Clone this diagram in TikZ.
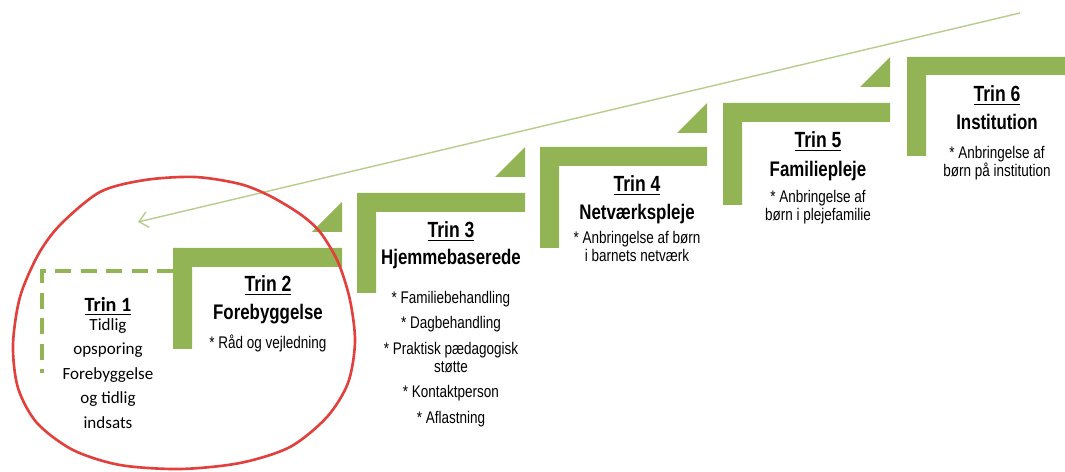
\documentclass[tikz,border=0pt]{standalone}
\usepackage{fontspec}
\setmainfont{Liberation Sans}[FakeStretch=0.8]
\newfontfamily\calibrifont{Carlito}
\usetikzlibrary{arrows.meta}
\definecolor{trappegroen}{HTML}{92B454}
\definecolor{pilgroen}{HTML}{B9CC8C}
\definecolor{ringroed}{HTML}{E2403C}

\begin{document}
\begin{tikzpicture}[x=0.02cm,y=-0.02cm]
	\tikzstyle{every node}=[inner sep=0pt, align=center]
	\tikzstyle{trin}=[font=\fontsize{12.5}{14}\selectfont\bfseries, anchor=base]
	\tikzstyle{undertitel}=[font=\fontsize{12}{14}\selectfont\bfseries, anchor=base]
	\tikzstyle{punkt}=[font=\fontsize{9.6}{10.4}\selectfont, anchor=north]
	\tikzstyle{trappe}=[fill=trappegroen]
	\useasboundingbox (0,0) rectangle (1065,472);
	% trappetrin
	\fill[trappe] (173,248) -- (342,248) -- (342,267) -- (192,267) -- (192,349) -- (173,349) -- cycle;
	\fill[trappe] (342,232) -- (342,202) -- (312,232) -- cycle;
	\fill[trappe] (357,193) -- (525,193) -- (525,212) -- (376,212) -- (376,293) -- (357,293) -- cycle;
	\fill[trappe] (525,177) -- (525,147) -- (495,177) -- cycle;
	\fill[trappe] (540,147) -- (707,147) -- (707,166) -- (559,166) -- (559,248) -- (540,248) -- cycle;
	\fill[trappe] (707,133) -- (707,103) -- (677,133) -- cycle;
	\fill[trappe] (723,103) -- (890,103) -- (890,122) -- (742,122) -- (742,205) -- (723,205) -- cycle;
	\fill[trappe] (890,87) -- (890,57) -- (860,87) -- cycle;
	\fill[trappe] (907,57) -- (1065,57) -- (1065,75) -- (926,75) -- (926,156) -- (907,156) -- cycle;
	\draw[trappegroen, line width=1.9pt, dash pattern=on 9pt off 5.5pt] (173,271) -- (42,271) -- (42,373);
	% tekster
	\node[font=\calibrifont\fontsize{11.5}{14}\selectfont\bfseries, anchor=base] (trin1) at (108,312) {\underline{Trin 1}};
	\node[font=\calibrifont\fontsize{9.7}{14}\selectfont, anchor=north] (tekst1) at (108,318) {Tidlig\\opsporing\\Forebyggelse\\og tidlig\\indsats};
	\node[trin] (trin2) at (268,292) {\underline{Trin 2}};
	\node[undertitel] (navn2) at (268,320) {Forebyggelse};
	\node[punkt] (tekst2) at (268,335) {* Råd og vejledning};
	\node[trin] (trin3) at (451,238) {\underline{Trin 3}};
	\node[undertitel] (navn3) at (451,265) {Hjemmebaserede};
	\node[punkt] (tekst3) at (451,291) {* Familiebehandling\\[4pt]* Dagbehandling\\[4pt]* Praktisk pædagogisk\\støtte\\[4pt]* Kontaktperson\\[4pt]* Aflastning};
	\node[trin] (trin4) at (637,192) {\underline{Trin 4}};
	\node[undertitel] (navn4) at (637,220) {Netværkspleje};
	\node[punkt] (tekst4) at (637,231) {* Anbringelse af børn\\i barnets netværk};
	\node[trin] (trin5) at (818,148) {\underline{Trin 5}};
	\node[undertitel] (navn5) at (818,177) {Familiepleje};
	\node[punkt] (tekst5) at (818,190) {* Anbringelse af\\børn i plejefamilie};
	\node[trin] (trin6) at (997,102) {\underline{Trin 6}};
	\node[undertitel] (navn6) at (997,130) {Institution};
	\node[punkt] (tekst6) at (997,146) {* Anbringelse af\\børn på institution};
	% pil og ring
	\coordinate (pilstart) at (1020,13);
	\coordinate (pilspids) at (138,222);
	\draw[pilgroen, line width=0.8pt, -{Straight Barb[length=5pt,width=9pt]}] (pilstart) -- (pilspids);
	\draw[ringroed, line width=1.5pt] plot[smooth cycle] coordinates {(13,345) (20,297) (38,255) (60,225) (100,192) (145,180) (195,177) (240,184) (270,196) (300,214) (320,232) (338,262) (350,300) (355,342) (348,383) (327,417) (290,447) (240,463) (180,469) (120,465) (73,450) (37,423) (18,388)};
\end{tikzpicture}
\end{document}
